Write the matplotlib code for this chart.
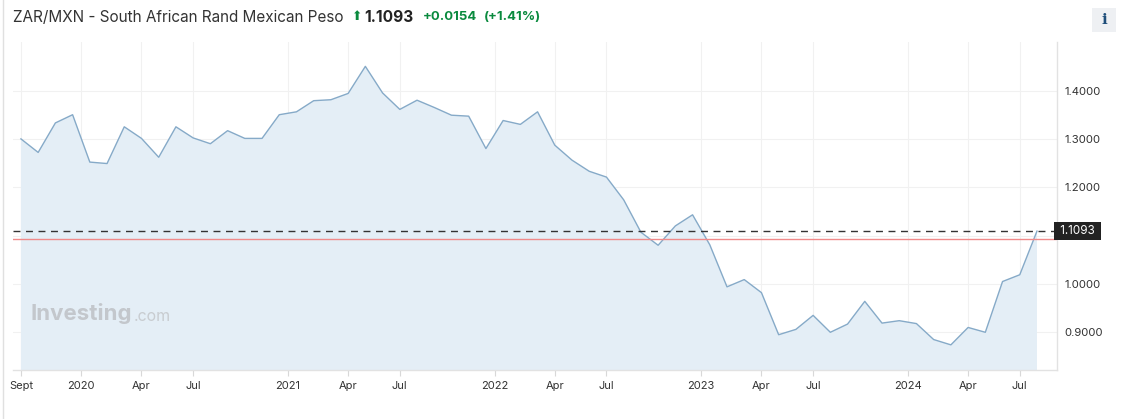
import matplotlib
matplotlib.use("Agg")
import matplotlib.pyplot as plt
from matplotlib.lines import Line2D
from matplotlib.patches import Rectangle

plt.rcParams['font.family'] = ['Inter', 'DejaVu Sans']

# monthly closes, Sep 2019 .. Aug 2024
rates = [1.300, 1.272, 1.333, 1.350, 1.252, 1.249, 1.325, 1.301, 1.262, 1.325,
         1.302, 1.290, 1.317, 1.301, 1.301, 1.350, 1.356, 1.379, 1.381, 1.394,
         1.450, 1.395, 1.361, 1.380, 1.365, 1.349, 1.347, 1.280, 1.338, 1.330,
         1.356, 1.287, 1.256, 1.233, 1.221, 1.174, 1.107, 1.080, 1.120, 1.143,
         1.081, 0.994, 1.009, 0.982, 0.895, 0.906, 0.935, 0.900, 0.917, 0.964,
         0.919, 0.924, 0.918, 0.885, 0.874, 0.910, 0.900, 1.005, 1.019, 1.1093]
tick_pos = [0, 3.5, 7, 10, 15.5, 19, 22, 27.5, 31, 34, 39.5, 43, 46, 51.5, 55, 58]
tick_labels = ["Sept", "2020", "Apr", "Jul", "2021", "Apr", "Jul", "2022", "Apr", "Jul",
               "2023", "Apr", "Jul", "2024", "Apr", "Jul"]
y_ticks = [0.9, 1.0, 1.1, 1.2, 1.3, 1.4]
last_price = 1.1093
prev_close = 1.0939

W, H = 1124, 419
fig = plt.figure(figsize=(W / 100, H / 100), dpi=100)
ax = fig.add_axes([12.5 / W, 1 - 370 / H, (1057.3 - 12.5) / W, (370 - 41.7) / H])

x = list(range(len(rates)))
ax.fill_between(x, rates, 0, color='#e4eef6', lw=0)
ax.plot(x, rates, color='#86aac8', lw=1)

ax.axhline(prev_close, color='#f08a8a', lw=1)
ax.axhline(last_price, color='#333333', lw=1, dashes=(5, 4))

ax.set_xlim(-0.49, 60.18)
ax.set_ylim(0.822, 1.501)

ax.set_xticks(tick_pos)
ax.set_xticklabels(tick_labels)
ax.set_yticks(y_ticks)
ax.set_yticklabels(["%.4f" % v if abs(v - 1.1) > 1e-6 else "" for v in y_ticks])
ax.yaxis.tick_right()
ax.tick_params(axis='y', length=0, pad=5, labelsize=8.2, labelcolor='#333333')
ax.tick_params(axis='x', length=4, color='#d8d8d8', pad=4, labelsize=8, labelcolor='#333333')
ax.grid(True, color='#f1f1f1', lw=0.8)
ax.set_axisbelow(True)

for s in ['left', 'top']:
    ax.spines[s].set_visible(False)
for s in ['right', 'bottom']:
    ax.spines[s].set_color('#e2e2e2')
    ax.spines[s].set_linewidth(1)

# current price label on the right axis
ax.text(1.0, last_price, " 1.1093 ", transform=ax.get_yaxis_transform(),
        ha='left', va='center', fontsize=8.4, color='white',
        bbox=dict(boxstyle='square,pad=0.25', fc='#222222', ec='none'))

# watermark
ax.text(30 / W, 1 - 313 / H, "Investing", transform=fig.transFigure, fontsize=16,
        fontweight='bold', color='#c3c7cc', va='center', ha='left')
ax.text(134 / W, 1 - 316 / H, ".com", transform=fig.transFigure, fontsize=11.5,
        color='#c8ccd0', va='center', ha='left')

# header
ty = 1 - 17 / H
fig.text(13 / W, ty, "ZAR/MXN - South African Rand Mexican Peso", fontsize=11,
         color='#333333', va='center')
fig.text(352 / W, ty, "\u2b06", fontsize=9, color='#0a8a3e', va='center',
         family='DejaVu Sans')
fig.text(364 / W, ty, "1.1093", fontsize=11.2, fontweight='bold', color='#222222', va='center')
fig.text(423 / W, ty, "+0.0154", fontsize=9.5, fontweight='bold', color='#0a8a3e', va='center')
fig.text(484 / W, ty, "(+1.41%)", fontsize=9.5, fontweight='bold', color='#0a8a3e', va='center')

# info button
fig.add_artist(Rectangle((1091.7 / W, 1 - 31.7 / H), 24.3 / W, 23.4 / H,
                         transform=fig.transFigure, fc='#eef0f3', ec='none'))
fig.text(1104 / W, 1 - 20 / H, "i", fontsize=11, fontweight='bold', color='#1f4e7a',
         ha='center', va='center', family='DejaVu Serif')

# card border
fig.add_artist(Line2D([3 / W, 3 / W], [0, 1], transform=fig.transFigure,
                      color='#e0e0e0', lw=1))

fig.savefig("out.png", dpi=100)
